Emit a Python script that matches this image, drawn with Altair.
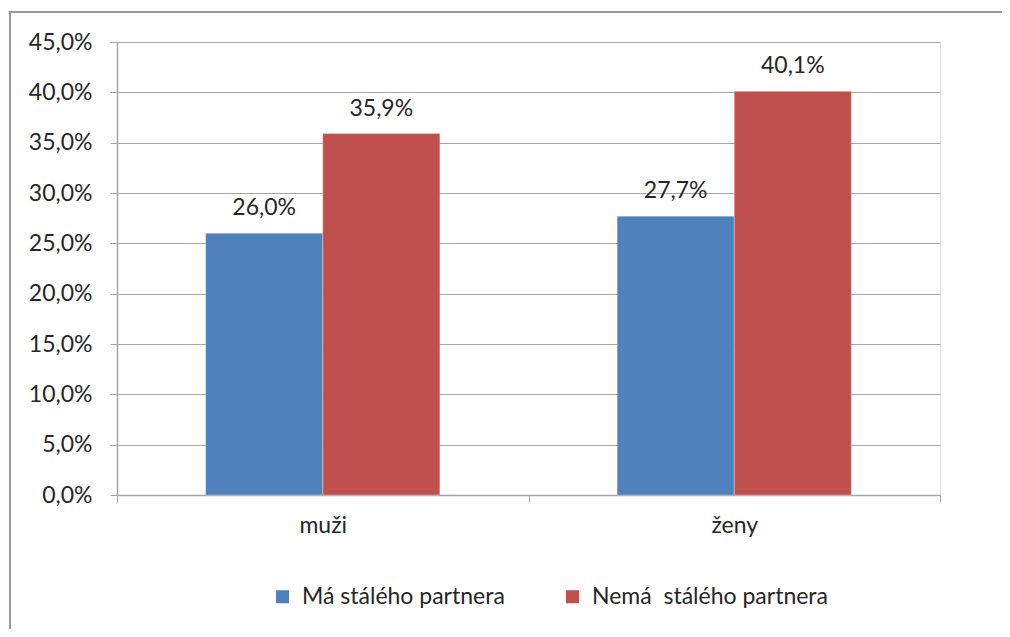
import altair as alt
import pandas as pd

categories = ["muži", "ženy"]
series = ["Má stálého partnera", "Nemá\u00a0 stálého partnera"]
values_ma = [0.260, 0.277]
values_nema = [0.359, 0.401]
colors = ["#4F81BD", "#C0504D"]

rows = []
for i, c in enumerate(categories):
    rows.append({"kategorie": c, "serie": series[0], "hodnota": values_ma[i]})
    rows.append({"kategorie": c, "serie": series[1], "hodnota": values_nema[i]})
df = pd.DataFrame(rows)

FONT = "Lato"
FS = 23
TXT = "#262626"
GRID = "#a6a6a6"

base = alt.Chart(df).encode(
    x=alt.X(
        "kategorie:N",
        sort=categories,
        scale=alt.Scale(paddingInner=0, paddingOuter=0),
        axis=alt.Axis(
            title=None, labelAngle=0, tickBand="extent", grid=False,
            domainColor=GRID, tickColor=GRID, tickSize=7, domainWidth=1.5,
            labelFontSize=FS, labelFont=FONT, labelColor=TXT, labelPadding=12,
        ),
    ),
    xOffset=alt.XOffset(
        "serie:N", sort=series,
        scale=alt.Scale(paddingOuter=0.757, paddingInner=0),
    ),
    y=alt.Y(
        "hodnota:Q",
        scale=alt.Scale(domain=[0, 0.45], nice=False),
        axis=alt.Axis(
            title=None, values=[i * 0.05 for i in range(10)],
            labelExpr="replace(format(datum.value, '.1%'), '.', ',')",
            grid=True, gridColor=GRID, gridWidth=1.2,
            domainColor=GRID, domainWidth=1.5, tickColor=GRID, tickSize=7,
            labelFontSize=FS, labelFont=FONT, labelColor=TXT, labelPadding=18,
        ),
    ),
)

bars = base.mark_bar(stroke="white", strokeWidth=0.5, strokeOpacity=0.6).encode(
    color=alt.Color(
        "serie:N", sort=series,
        scale=alt.Scale(domain=series, range=colors),
        legend=alt.Legend(
            title=None, orient="none", direction="horizontal",
            legendX=154, legendY=543,
            symbolType="square", symbolSize=170, symbolStrokeWidth=0,
            labelFontSize=FS, labelFont=FONT, labelColor=TXT, labelLimit=0,
            labelOffset=8, columnPadding=56, symbolOpacity=1,
        ),
    )
)

labels = base.transform_calculate(
    txt="replace(format(datum.hodnota, '.1%'), '.', ',')"
).mark_text(
    baseline="alphabetic", dy=-18, fontSize=FS, font=FONT, color=TXT
).encode(text="txt:N")

frame_top = alt.Chart(df).mark_rule(color="#9a9a9a", strokeWidth=2).encode(
    x=alt.value(-108), x2=alt.value(1300), y=alt.value(-30),
)
frame_left = alt.Chart(df).mark_rule(color="#9a9a9a", strokeWidth=2).encode(
    x=alt.value(-107), y=alt.value(-31), y2=alt.value(900),
)

chart = alt.layer(frame_top, frame_left, bars, labels).properties(
    width=823, height=453,
    autosize=alt.AutoSizeParams(type="none"),
    padding={"left": 109, "top": 34, "right": 62, "bottom": 134},
).configure_view(stroke=None).configure(background="white")

chart.save("out.html", embed_options={"renderer": "svg", "actions": False})
